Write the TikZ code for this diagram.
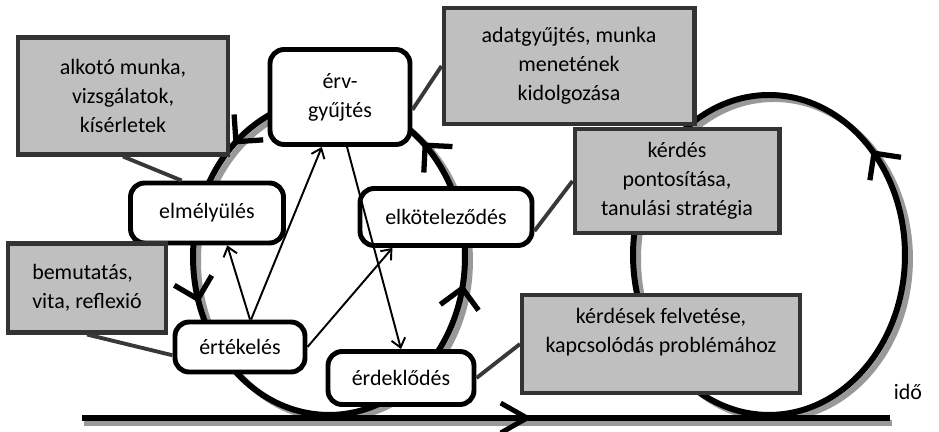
\documentclass[tikz,border=0pt]{standalone}
\usepackage{fontspec}
\setmainfont{Carlito}
\usetikzlibrary{arrows.meta,decorations.markings}

\begin{document}
\begin{tikzpicture}[x=0.02cm, y=-0.02cm, thick,
  font=\fontsize{12.5}{16.5}\selectfont,
  phase/.style = {draw, line width=2.8pt, rounded corners=8pt, fill=white, align=center},
  note/.style = {draw=black!80, line width=2.3pt, fill=black!25, align=center},
  loopline/.style = {line width=3.4pt},
  shade/.style = {line width=3.4pt, black!40},
  link/.style = {draw=black!78, line width=2.2pt},
  flow/.style = {-{Straight Barb[length=5pt,width=8pt]}, line width=1.1pt},
  bigtip/.tip = {Straight Barb[line width=3pt,length=11pt,width=22pt]}]
\useasboundingbox (0,0) rectangle (939,432);

\draw[shade] (334,103) arc[start angle=90, end angle=450, x radius=2.72cm, y radius=3.16cm];
\draw[shade] (774,99) arc[start angle=90, end angle=450, x radius=2.72cm, y radius=3.2cm];
\draw[loopline, postaction={decorate}, decoration={markings,
    mark=at position 0.118 with {\arrow{bigtip}},
    mark=at position 0.30 with {\arrow{bigtip}},
    mark=at position 0.72 with {\arrow{bigtip}},
    mark=at position 0.885 with {\arrow{bigtip}}}]
  (329,99) arc[start angle=90, end angle=450, x radius=2.72cm, y radius=3.16cm];
\draw[loopline, postaction={decorate}, decoration={markings,
    mark=at position 0.87 with {\arrow{bigtip}}}]
  (769,95) arc[start angle=90, end angle=450, x radius=2.72cm, y radius=3.2cm];

\coordinate (start) at (82,418);
\coordinate (end) at (890,418);
\draw[line width=3.4pt, black!40] ([shift={(2,5)}]start) -- ([shift={(2,5)}]end);
\draw[line width=3.8pt, postaction={decorate}, decoration={markings,
    mark=at position 0.557 with {\arrow{Straight Barb[line width=2.8pt,length=15pt,width=17pt]}}}]
  (start) -- (end);
\node (ido) at (908,392) {idő};

\node[phase, minimum width=2.8cm, minimum height=1.9cm] (erv) at (340,97) {érv-\\gyűjtés};
\node[phase, minimum width=3.06cm, minimum height=1.2cm] (elmelyules) at (207,213) {elmélyülés};
\node[phase, minimum width=3.44cm, minimum height=1.14cm] (elkot) at (446,217) {elköteleződés};
\node[phase, minimum width=2.6cm, minimum height=1cm] (ertekeles) at (240,347) {értékelés};
\node[phase, minimum width=2.92cm, minimum height=1.06cm] (erdeklodes) at (401,378) {érdeklődés};

\node[note, minimum width=4.2cm, minimum height=2.34cm] (alkoto) at (123,96) {alkotó munka,\\vizsgálatok,\\kísérletek};
\node[note, minimum width=5.02cm, minimum height=2.32cm] (adat) at (569,66) {adatgyűjtés, munka\\menetének\\kidolgozása};
\node[note, minimum width=4.1cm, minimum height=2.08cm] (kerdes) at (677,181) {kérdés\\pontosítása,\\tanulási stratégia};
\node[note, align=left, minimum width=3.16cm, minimum height=1.78cm] (bemutatas) at (87,288) {bemutatás,\\vita, reflexió};
\node[note, text depth=15pt, minimum width=5.56cm, minimum height=1.96cm] (kerdesek) at (661,344) {kérdések felvetése,\\kapcsolódás problémához};

\draw[flow] (ertekeles.68) -- (erv.-110);
\draw[flow] (ertekeles.70) -- (elmelyules.-58);
\draw[flow] (ertekeles.east) -- (elkot.-150);
\draw[flow] (erv.-82) -- (erdeklodes.north);

\draw[link] (alkoto.south) -- (elmelyules.128);
\draw[link] (adat.west) -- (erv.-10);
\draw[link] (kerdes.west) -- (elkot.-9);
\draw[link] (bemutatas.south) -- (ertekeles.187);
\draw[link] (kerdesek.west) -- (erdeklodes.east);
\end{tikzpicture}
\end{document}
